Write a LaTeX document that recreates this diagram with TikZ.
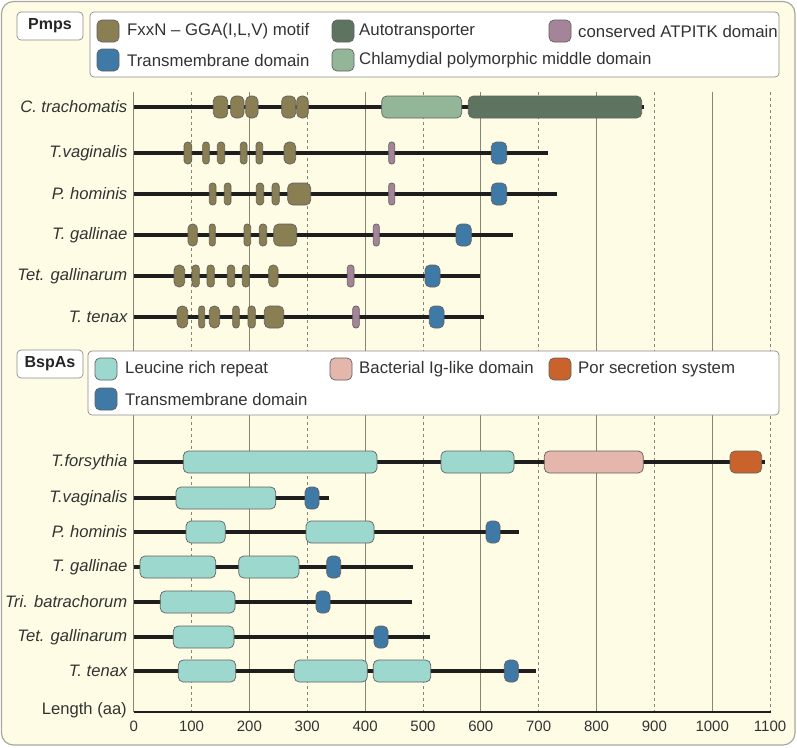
\documentclass[tikz,border=0pt]{standalone}
\usepackage{fontspec}
\setmainfont{Liberation Sans}
\definecolor{cream}{HTML}{FEFCE5}
\definecolor{framec}{HTML}{A8A8A0}
\definecolor{olive}{HTML}{8A7E53}
\definecolor{autot}{HTML}{5E7360}
\definecolor{chlam}{HTML}{93B598}
\definecolor{atpitk}{HTML}{A5849A}
\definecolor{tmblue}{HTML}{3F79A6}
\definecolor{lrr}{HTML}{9DD8CE}
\definecolor{igl}{HTML}{E5B6AC}
\definecolor{por}{HTML}{C9632B}
\definecolor{bb}{HTML}{1E1E1E}
\definecolor{gridc}{HTML}{858578}
\definecolor{txt}{HTML}{333333}
\newcommand\domainbox[4]{%
  \pgfmathsetmacro\rr{min(5,(#3-#2)/2-0.3)}%
  \draw[dombox,fill=#1,rounded corners=\rr pt] (#2,#4-11) rectangle (#3,#4+11);}
\newcommand\swatch[3]{%
  \draw[dombox,fill=#1,rounded corners=5pt] (#2,#3-11) rectangle (#2+22,#3+11);}
\begin{document}
\begin{tikzpicture}[x=1pt,y=-1pt,
  dombox/.style={draw=black!62, line width=0.7pt},
  backbone/.style={line width=4pt, draw=bb},
  gridsolid/.style={draw=gridc, line width=0.8pt},
  griddash/.style={draw=gridc, line width=0.8pt, dash pattern=on 3pt off 3pt},
  lab/.style={anchor=east, font=\fontsize{16.6}{18}\selectfont\itshape, text=txt, inner sep=0pt},
  leg/.style={anchor=west, font=\fontsize{16.8}{18}\selectfont, text=txt, inner sep=0pt},
  tick/.style={anchor=center, font=\fontsize{15}{17}\selectfont, text=txt, inner sep=0pt},
  whitebox/.style={draw=black!45, fill=white, line width=0.7pt, rounded corners=4pt},
  head/.style={font=\fontsize{16}{18}\selectfont\bfseries, text=black!85, inner sep=0pt}]
\useasboundingbox (0,0) rectangle (797,747);
% frame
\draw[draw=framec, fill=cream, line width=1.2pt, rounded corners=12pt] (1.5,1.5) rectangle (795,745);
% grid
\foreach \v in {0,200,400,600,800,1000}{
  \draw[gridsolid] ({133.7+0.5785*\v},92) -- ({133.7+0.5785*\v},712);}
\foreach \v in {100,300,500,700,900,1100}{
  \draw[griddash] ({133.7+0.5785*\v},92) -- ({133.7+0.5785*\v},712);}
% axis
\draw[line width=2pt, draw=bb] (133.7,712) -- (771,712);
\foreach \v in {0,100,...,1100}{
  \node[tick] at ({133.7+0.5785*\v},726) {\v};}
\node[anchor=east, font=\fontsize{16.6}{18}\selectfont, text=txt, inner sep=0pt] (lenlab) at (127,710) {Length (aa)};

% ---------- Pmps header + legend ----------
\draw[whitebox] (17,12) rectangle (83,40);
\node[head] (pmps) at (50,26) {Pmps};
\draw[whitebox] (90,12) rectangle (779,77);
\swatch{olive}{97}{31}   \node[leg] at (127,31) {FxxN – GGA(I,L,V) motif};
\swatch{tmblue}{97}{60}  \node[leg] at (127,60) {Transmembrane domain};
\swatch{autot}{332}{31}  \node[leg] at (359,31) {Autotransporter};
\swatch{chlam}{332}{60}  \node[leg] at (359,60) {Chlamydial polymorphic middle domain};
\swatch{atpitk}{549}{31} \node[leg] at (578,31) {conserved ATPITK domain};

% ---------- Pmps rows ----------
% C. trachomatis
\node[lab] at (127.5,107) {C. trachomatis};
\draw[backbone] (134,107) -- (644,107);
\foreach \a/\b in {213.3/227.7,230.7/244,245.7/258,281.7/295.7,296.7/308.3}{\domainbox{olive}{\a}{\b}{107}}
\domainbox{chlam}{381.7}{461.7}{107}
\domainbox{autot}{468.3}{641.7}{107}
% T.vaginalis
\node[lab] at (127.5,153) {T.vaginalis};
\draw[backbone] (134,153) -- (548,153);
\foreach \a/\b in {184/191.7,202.7/209.3,217.3/224.7,240.3/247,256/262.7,284/295.7}{\domainbox{olive}{\a}{\b}{153}}
\domainbox{atpitk}{388.7}{394.7}{153}
\domainbox{tmblue}{491.3}{506.7}{153}
% P. hominis
\node[lab] at (127.5,194) {P. hominis};
\draw[backbone] (134,194) -- (556.7,194);
\foreach \a/\b in {209.3/216,224.3/231,256.3/263.7,272/279.3,287.7/310.7}{\domainbox{olive}{\a}{\b}{194}}
\domainbox{atpitk}{388.7}{394.7}{194}
\domainbox{tmblue}{491.3}{506.7}{194}
% T. gallinae
\node[lab] at (127.5,235) {T. gallinae};
\draw[backbone] (134,235) -- (513.3,235);
\foreach \a/\b in {188/197.3,209.3/215.3,244/250.7,259.3/266.7,273.7/296.7}{\domainbox{olive}{\a}{\b}{235}}
\domainbox{atpitk}{373.3}{379.3}{235}
\domainbox{tmblue}{456}{471.3}{235}
% Tet. gallinarum
\node[lab] at (127.5,276) {Tet. gallinarum};
\draw[backbone] (134,276) -- (480,276);
\foreach \a/\b in {174/184.7,192/199.3,207/214.3,227.3/234.7,242.3/249.3,268.7/278}{\domainbox{olive}{\a}{\b}{276}}
\domainbox{atpitk}{347.3}{354}{276}
\domainbox{tmblue}{425}{440}{276}
% T. tenax
\node[lab] at (127.5,317) {T. tenax};
\draw[backbone] (134,317) -- (484,317);
\foreach \a/\b in {177/187.7,198.7/204.7,209.3/219.7,232.7/239.3,248/255.3,264.3/283.7}{\domainbox{olive}{\a}{\b}{317}}
\domainbox{atpitk}{352.7}{359.3}{317}
\domainbox{tmblue}{429.3}{444}{317}

% ---------- BspAs header + legend ----------
\draw[whitebox] (17,350) rectangle (83,378);
\node[head] (bspas) at (50,364) {BspAs};
\draw[whitebox] (88,351) rectangle (779,415);
\swatch{lrr}{95}{369}     \node[leg] at (125,369) {Leucine rich repeat};
\swatch{tmblue}{95}{399}  \node[leg] at (125,399) {Transmembrane domain};
\swatch{igl}{330}{369}    \node[leg] at (359,369) {Bacterial Ig-like domain};
\swatch{por}{549}{369}    \node[leg] at (578,369) {Por secretion system};

% ---------- BspAs rows ----------
\node[lab] at (127.5,462) {T.forsythia};
\draw[backbone] (134,462) -- (765,462);
\domainbox{lrr}{183.3}{377}{462}
\domainbox{lrr}{441}{514}{462}
\domainbox{igl}{544.3}{643.3}{462}
\domainbox{por}{730}{761.7}{462}

\node[lab] at (127.5,498) {T.vaginalis};
\draw[backbone] (134,498) -- (329,498);
\domainbox{lrr}{176}{275.7}{498}
\domainbox{tmblue}{305}{319}{498}

\node[lab] at (127.5,532) {P. hominis};
\draw[backbone] (134,532) -- (519,532);
\domainbox{lrr}{186}{225.3}{532}
\domainbox{lrr}{306}{374}{532}
\domainbox{tmblue}{486}{500}{532}

\node[lab] at (127.5,567) {T. gallinae};
\draw[backbone] (134,567) -- (413.3,567);
\domainbox{lrr}{140}{215.7}{567}
\domainbox{lrr}{238.7}{299}{567}
\domainbox{tmblue}{326.7}{340.7}{567}

\node[lab] at (127.5,602) {Tri. batrachorum};
\draw[backbone] (134,602) -- (412.3,602);
\domainbox{lrr}{160.3}{235}{602}
\domainbox{tmblue}{316}{330}{602}

\node[lab] at (127.5,637) {Tet. gallinarum};
\draw[backbone] (134,637) -- (430,637);
\domainbox{lrr}{173.3}{234}{637}
\domainbox{tmblue}{374}{388}{637}

\node[lab] at (127.5,671) {T. tenax};
\draw[backbone] (134,671) -- (536,671);
\domainbox{lrr}{178.3}{235.7}{671}
\domainbox{lrr}{294.3}{367.3}{671}
\domainbox{lrr}{373.3}{430.7}{671}
\domainbox{tmblue}{504.3}{518.3}{671}
\end{tikzpicture}
\end{document}
